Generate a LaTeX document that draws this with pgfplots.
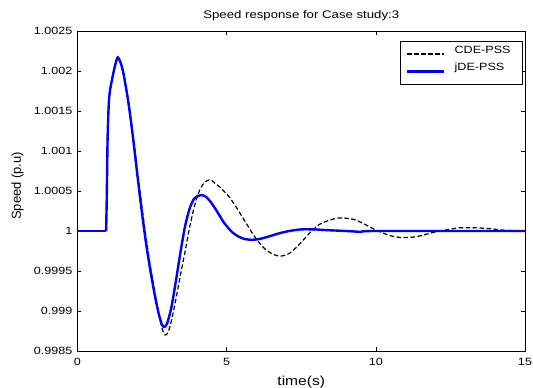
\documentclass[border=0pt]{standalone}
\usepackage{pgfplots}
\pgfplotsset{compat=1.18}
\usepackage{fontspec}
\setmainfont{Liberation Sans}[FakeStretch=1.2]
\newfontfamily\ylabfont{Liberation Sans}
\definecolor{mblue}{RGB}{0,0,255}
\begin{document}
\begin{tikzpicture}
\begin{axis}[
  scale only axis,
  width=447.5bp, height=320bp,
  xmin=0, xmax=15, ymin=0.9985, ymax=1.0025,
  xtick={0,5,10,15}, xticklabels={0,5,10,15},
  ytick={0.9985,0.999,0.9995,1,1.0005,1.001,1.0015,1.002,1.0025},
  yticklabels={0.9985,0.999,0.9995,1,1.0005,1.001,1.0015,1.002,1.0025},
  scaled y ticks=false, scaled x ticks=false,
  tick align=inside, major tick length=4bp,
  tick style={line width=0.6bp, black},
  axis line style={line width=0.8bp, black},
  tick label style={font=\fontsize{10.5bp}{12bp}\selectfont},
  yticklabel style={anchor=east, inner sep=0pt, xshift=-5bp},
  xticklabel style={anchor=north, inner sep=0pt, yshift=-7bp},
  every axis title shift=0pt,
  title={Speed response for Case study:3},
  title style={font=\fontsize{11bp}{13bp}\selectfont, at={(axis description cs:0.5,1)}, anchor=center, yshift=15bp, inner sep=0pt},
  xlabel={time(s)},
  xlabel style={font=\fontsize{13bp}{15bp}\selectfont, at={(axis description cs:0.5,0)}, anchor=center, yshift=-31bp, inner sep=0pt},
  ylabel={\ylabfont Speed (p.u)},
  ylabel style={font=\fontsize{13bp}{15bp}\selectfont, at={(axis description cs:-0.134,0.516)}, anchor=center, rotate=0, inner sep=0pt},
  legend style={at={(rel axis cs:0.994,0.970)}, anchor=north east, draw=black, line width=0.8bp,
    font=\fontsize{10.5bp}{12bp}\selectfont, inner xsep=6.3bp, inner ysep=0pt,
    nodes={inner sep=0pt, text height=12.35bp, text depth=13.85bp}, column sep=9bp, row sep=-8.8bp},
  legend cell align=left,
  legend image code/.code={\draw[#1] (0bp,0bp) -- (37bp,0bp);},
]
\coordinate (ll) at (rel axis cs:0,0);
\coordinate (ur) at (rel axis cs:1,1);
\addplot[black, line width=1.2bp, dash pattern=on 4.5bp off 2.5bp, smooth, tension=0.45] coordinates {
(0.96,1.0) (0.98,1.0004) (1.01,1.00118) (1.05,1.0016) (1.09,1.00176) (1.2,1.00197) (1.28,1.00209)
(1.35,1.00216) (1.45,1.0021) (1.55,1.00196) (1.7,1.00164) (1.85,1.00124) (2.0,1.00078)
(2.15,1.00033) (2.3,0.99991) (2.45,0.99954) (2.6,0.99922) (2.73,0.99896) (2.83,0.99879)
(2.93,0.9987) (3.03,0.99873) (3.15,0.99888) (3.3,0.99915) (3.45,0.99945) (3.6,0.99973)
(3.75,1.00003) (3.9,1.00028) (4.05,1.00047) (4.2,1.00058) (4.35,1.00063) (4.47,1.00064)
(4.6,1.0006) (4.8,1.00054) (4.95,1.00048) (5.1,1.00042) (5.3,1.00031) (5.5,1.00019)
(5.7,1.00007) (5.9,0.99995) (6.1,0.99985) (6.3,0.99977) (6.5,0.99972) (6.7,0.99969)
(6.9,0.99969) (7.1,0.99972) (7.35,0.9998) (7.6,0.9999) (7.85,1.0) (8.1,1.00008)
(8.4,1.00013) (8.7,1.00016) (9.0,1.00016) (9.3,1.00014) (9.6,1.00009) (9.9,1.00003)
(10.2,0.99998) (10.5,0.99994) (10.8,0.99992) (11.15,0.99992) (11.5,0.99994) (11.9,0.99998)
(12.3,1.00001) (12.8,1.00004) (13.3,1.00004) (13.8,1.00003) (14.3,1.00001) (15,1.0)
};
\addlegendentry{CDE-PSS\hspace*{5bp}}
\addplot[mblue, line width=2.4bp, smooth, tension=0.45] coordinates {
(0.96,1.0) (0.98,1.0004) (1.01,1.00118) (1.05,1.0016) (1.09,1.00176) (1.2,1.00197) (1.28,1.0021)
(1.35,1.00217) (1.45,1.0021) (1.55,1.00195) (1.7,1.00162) (1.85,1.0012) (2.0,1.00072)
(2.15,1.00026) (2.3,0.99984) (2.45,0.99949) (2.6,0.99918) (2.72,0.99897) (2.82,0.99884)
(2.9,0.9988) (3.0,0.99884) (3.15,0.99905) (3.3,0.99938) (3.45,0.99973) (3.6,1.00005)
(3.75,1.00027) (3.9,1.0004) (4.05,1.00044) (4.15,1.00045) (4.3,1.00043) (4.45,1.00037)
(4.6,1.00029) (4.75,1.0002) (4.9,1.00011) (5.05,1.00004) (5.2,0.99998) (5.4,0.99993)
(5.6,0.9999) (5.85,0.99989) (6.1,0.9999) (6.4,0.99993) (6.75,0.99997) (7.1,1.0)
(7.5,1.00002) (7.9,1.00002) (8.4,1.00001) (9.0,1.0) (9.5,0.99999) (10.0,1.0) (15,1.0)
};
\addlegendentry{jDE-PSS\hspace*{5bp}}
\addplot[mblue, line width=2.4bp, forget plot] coordinates {(0,1.0) (0.96,1.0)};
\end{axis}
\pgfresetboundingbox
\path ([shift={(-77.5bp,-37bp)}]ll) rectangle ([shift={(8bp,31bp)}]ur);
\end{tikzpicture}
\end{document}
